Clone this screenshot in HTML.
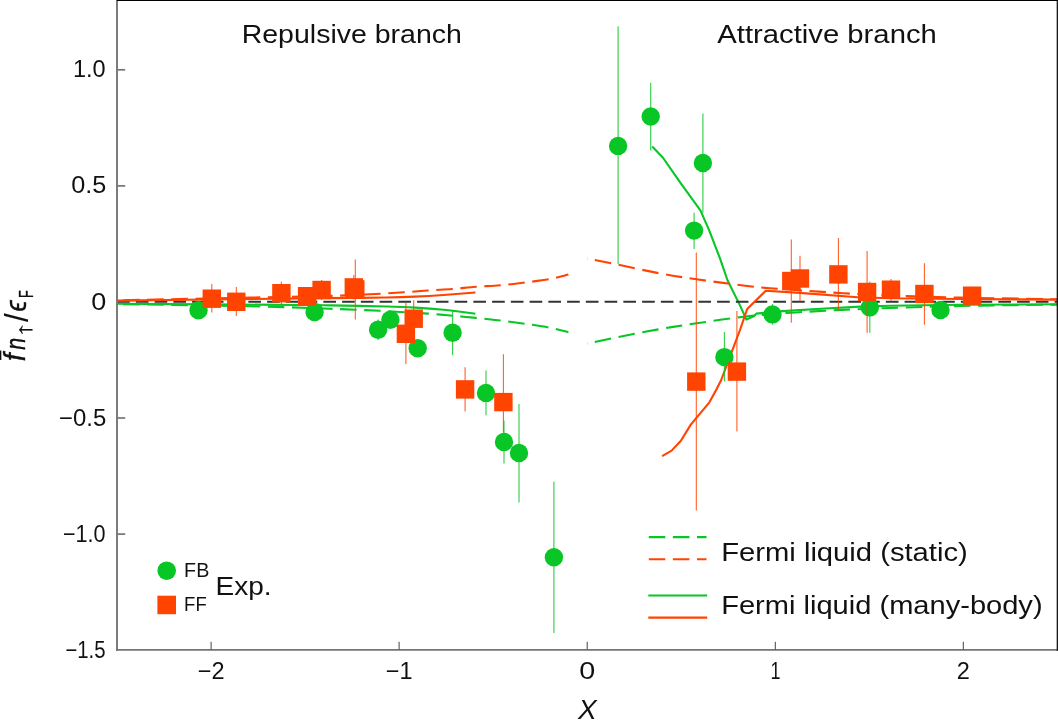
<!DOCTYPE html>
<html lang="en"><head><meta charset="utf-8"><title>Fermi liquid interaction plot</title>
<style>html,body{margin:0;padding:0;background:#fff;overflow:hidden}svg{display:block}text{font-family:"Liberation Sans", sans-serif;fill:#111}</style>
</head><body>
<svg width="1058" height="726" viewBox="0 0 1058 726">
<rect x="0" y="0" width="1058" height="726" fill="#fff"/>
<g fill="none" stroke-width="2.1" stroke-linejoin="round">
<path d="M117.0,303.7 C147.5,303.9 264.5,304.7 300.0,305.0 C335.5,305.3 315.6,305.1 330.0,305.4 C344.4,305.6 372.5,306.1 386.7,306.5 C400.9,306.9 405.6,307.1 415.1,307.6 C424.6,308.1 433.4,308.7 443.5,309.7 C453.6,310.7 470.1,313.0 475.4,313.7" stroke="#08C626"/>
<path d="M652.2,146.5 L662.8,157.5 L680.3,182.7 L700.4,210.3 L709.2,230.3 L719.8,257.9 L727.6,280.5 L740.0,305.4 L746.4,319.6 L754.2,316.0 L756.3,313.6 L782.6,311.1 L825.1,308.5 L860.6,306.6 L890.0,305.7 L960.0,304.8 L1057.0,304.2" stroke="#08C626"/>
<path d="M117.0,304.0 C139.2,304.4 214.5,305.4 250.0,306.2 C285.5,307.0 308.4,308.0 330.0,308.8 C351.6,309.6 363.3,310.0 379.6,310.8 C395.9,311.6 416.6,312.9 428.0,313.6 C439.4,314.4 439.7,314.6 447.7,315.3 C455.7,316.0 467.3,317.0 476.0,317.9 C484.7,318.8 491.9,319.5 500.0,320.5 C508.1,321.5 516.5,322.5 524.6,323.7 C532.7,324.9 541.5,326.1 548.8,327.5 C556.1,328.9 565.1,331.4 568.4,332.2" stroke="#08C626" stroke-dasharray="16.5 7.6" stroke-dashoffset="17.9"/>
<path d="M587.3,343.6 C592.4,342.5 606.2,339.4 618.1,337.0 C630.0,334.6 645.3,331.7 658.4,329.4 C671.5,327.1 682.1,325.4 696.6,323.3 C711.1,321.2 730.5,318.2 745.5,316.5 C760.5,314.8 773.5,313.9 786.8,313.0 C800.1,312.1 814.5,311.4 825.1,310.8 C835.7,310.2 839.8,310.0 850.6,309.5 C861.4,309.0 871.8,308.6 890.0,308.0 C908.2,307.4 932.2,306.6 960.0,306.0 C987.8,305.4 1040.8,304.8 1057.0,304.6" stroke="#08C626" stroke-dasharray="16.5 7.6" stroke-dashoffset="16.2"/>
<path d="M117.1,301.8 H1057" stroke="#333" stroke-width="2" stroke-dasharray="12.65 6.1"/>
<path d="M117.0,300.6 C147.5,300.2 264.5,298.8 300.0,298.4 C335.5,298.0 315.6,298.2 330.0,298.1 C344.4,298.0 372.5,297.8 386.7,297.5 C400.9,297.2 405.6,297.0 415.1,296.6 C424.6,296.2 433.4,295.7 443.5,295.0 C453.6,294.3 470.1,292.9 475.4,292.5" stroke="#FF4300"/>
<path d="M662.1,456.2 L671.6,450.6 L680.9,440.7 L690.8,424.6 L696.4,417.8 L709.4,402.3 L716.8,388.7 L721.2,380.0 L730.4,355.3 L740.0,330.0 L747.2,308.9 L765.8,290.8 L799.6,292.9 L857.7,297.2 L890.0,298.3 L960.0,299.0 L1057.0,299.6" stroke="#FF4300"/>
<path d="M117.0,300.4 C139.2,299.9 214.5,298.4 250.0,297.6 C285.5,296.9 310.9,296.4 330.0,295.9 C349.1,295.4 352.5,295.1 364.8,294.5 C377.1,293.9 393.3,293.0 403.8,292.3 C414.3,291.6 419.9,291.1 427.9,290.5 C435.9,289.9 444.0,289.6 452.0,289.0 C460.0,288.4 468.0,287.4 476.0,286.8 C484.0,286.2 491.9,286.0 500.0,285.3 C508.1,284.6 516.5,283.5 524.6,282.5 C532.7,281.5 541.5,280.6 548.8,279.3 C556.1,278.0 565.1,275.4 568.4,274.6" stroke="#FF4300" stroke-dasharray="16.5 7.6" stroke-dashoffset="17.9"/>
<path d="M587.3,258.5 C592.4,259.5 606.2,262.3 618.1,264.7 C630.0,267.1 645.3,270.7 658.4,273.1 C671.5,275.5 681.8,277.2 696.6,279.3 C711.4,281.4 734.9,284.5 747.1,286.0 C759.3,287.5 758.1,287.3 770.0,288.2 C781.9,289.1 806.5,290.8 818.7,291.6 C830.9,292.4 831.4,292.5 843.3,293.2 C855.2,293.9 870.5,294.9 890.0,295.6 C909.5,296.3 932.2,297.0 960.0,297.6 C987.8,298.2 1040.8,299.0 1057.0,299.3" stroke="#FF4300" stroke-dasharray="16.5 7.6" stroke-dashoffset="16.2"/>
</g>
<g stroke="#08C626" stroke-width="1.1" stroke-opacity="0.85">
<path d="M378.1,319.5 V340.0"/>
<path d="M452.6,310.7 V355.3"/>
<path d="M486.0,370.5 V415.2"/>
<path d="M504.0,420.7 V463.6"/>
<path d="M519.0,403.9 V502.4"/>
<path d="M553.9,481.8 V632.9"/>
<path d="M618.1,26.3 V264.2"/>
<path d="M650.7,82.7 V150.4"/>
<path d="M702.9,113.6 V212.8"/>
<path d="M694.1,212.8 V249.1"/>
<path d="M724.4,332.0 V381.6"/>
<path d="M772.5,304.0 V324.7"/>
<path d="M869.8,281.5 V332.8"/>
</g>
<g fill="#08C626">
<circle cx="198.5" cy="310.2" r="9.2"/>
<circle cx="314.6" cy="312.0" r="9.2"/>
<circle cx="378.1" cy="329.7" r="9.2"/>
<circle cx="390.4" cy="319.7" r="9.2"/>
<circle cx="417.7" cy="348.2" r="9.2"/>
<circle cx="452.6" cy="332.8" r="9.2"/>
<circle cx="486.0" cy="392.9" r="9.2"/>
<circle cx="504.0" cy="442.0" r="9.2"/>
<circle cx="519.0" cy="453.0" r="9.2"/>
<circle cx="553.9" cy="557.2" r="9.2"/>
<circle cx="618.1" cy="145.9" r="9.2"/>
<circle cx="650.7" cy="116.5" r="9.2"/>
<circle cx="702.9" cy="163.0" r="9.2"/>
<circle cx="694.1" cy="230.6" r="9.2"/>
<circle cx="724.4" cy="357.1" r="9.2"/>
<circle cx="772.5" cy="314.4" r="9.2"/>
<circle cx="869.8" cy="307.4" r="9.2"/>
<circle cx="940.5" cy="310.0" r="9.2"/>
</g>
<g stroke="#FF4300" stroke-width="1.1" stroke-opacity="0.85">
<path d="M211.8,284.0 V312.6"/>
<path d="M236.3,287.0 V316.0"/>
<path d="M281.4,281.8 V304.8"/>
<path d="M321.6,279.9 V300.0"/>
<path d="M353.8,275.1 V299.5"/>
<path d="M355.3,259.4 V319.4"/>
<path d="M413.7,300.2 V337.0"/>
<path d="M405.9,302.7 V364.1"/>
<path d="M465.1,367.2 V411.4"/>
<path d="M503.4,354.2 V432.7"/>
<path d="M696.3,252.6 V510.6"/>
<path d="M736.9,311.0 V431.5"/>
<path d="M791.3,239.5 V322.7"/>
<path d="M800.0,255.8 V301.4"/>
<path d="M838.4,238.1 V310.3"/>
<path d="M867.1,250.9 V332.8"/>
<path d="M891.0,279.0 V300.5"/>
<path d="M924.4,263.3 V324.8"/>
</g>
<g fill="#FF4300">
<rect x="202.6" y="289.5" width="18.4" height="18.4"/>
<rect x="227.1" y="292.6" width="18.4" height="18.4"/>
<rect x="272.2" y="284.0" width="18.4" height="18.4"/>
<rect x="297.9" y="287.0" width="18.4" height="18.4"/>
<rect x="312.4" y="280.8" width="18.4" height="18.4"/>
<rect x="344.6" y="278.2" width="18.4" height="18.4"/>
<rect x="346.1" y="280.2" width="18.4" height="18.4"/>
<rect x="404.5" y="309.5" width="18.4" height="18.4"/>
<rect x="396.7" y="324.6" width="18.4" height="18.4"/>
<rect x="455.9" y="380.2" width="18.4" height="18.4"/>
<rect x="494.2" y="392.9" width="18.4" height="18.4"/>
<rect x="687.1" y="372.4" width="18.4" height="18.4"/>
<rect x="727.7" y="362.4" width="18.4" height="18.4"/>
<rect x="782.1" y="271.8" width="18.4" height="18.4"/>
<rect x="790.8" y="269.3" width="18.4" height="18.4"/>
<rect x="829.2" y="265.2" width="18.4" height="18.4"/>
<rect x="857.9" y="282.8" width="18.4" height="18.4"/>
<rect x="881.8" y="280.5" width="18.4" height="18.4"/>
<rect x="915.2" y="284.8" width="18.4" height="18.4"/>
<rect x="962.9" y="286.5" width="18.4" height="18.4"/>
</g>
<g stroke="#757575" fill="none">
<path d="M117,0 V650.8" stroke-width="1.9"/>
<path d="M116,649.9 H1057.5" stroke-width="1.8"/>
<path d="M117,69.8 H125.2" stroke-width="1.7"/>
<path d="M117,185.9 H125.2" stroke-width="1.7"/>
<path d="M117,418.0 H125.2" stroke-width="1.7"/>
<path d="M117,534.1 H125.2" stroke-width="1.7"/>
<path d="M211.1,641.8 V649.5" stroke-width="1" stroke="#444"/>
<path d="M399.1,641.8 V649.5" stroke-width="1" stroke="#444"/>
<path d="M587.2,641.8 V649.5" stroke-width="1" stroke="#444"/>
<path d="M775.3,641.8 V649.5" stroke-width="1" stroke="#444"/>
<path d="M963.3,641.8 V649.5" stroke-width="1" stroke="#444"/>
</g>
<path d="M116.8,0.5 H1058" stroke="#000" stroke-width="1.2"/>
<path d="M1057.3,0 V650.8" stroke="#000" stroke-width="1.2"/>
<text x="105.6" y="77.3" font-size="23.5" text-anchor="end">1.0</text>
<text x="106.3" y="193.4" font-size="23.5" text-anchor="end" textLength="35.1" lengthAdjust="spacingAndGlyphs">0.5</text>
<text x="106.3" y="309.5" font-size="23.5" text-anchor="end" textLength="15.0" lengthAdjust="spacingAndGlyphs">0</text>
<text x="106.3" y="425.5" font-size="23.5" text-anchor="end" textLength="47.2" lengthAdjust="spacingAndGlyphs">−0.5</text>
<text x="105.6" y="541.6" font-size="23.5" text-anchor="end" textLength="42.7" lengthAdjust="spacingAndGlyphs">−1.0</text>
<text x="105.6" y="657.7" font-size="23.5" text-anchor="end" textLength="40.2" lengthAdjust="spacingAndGlyphs">−1.5</text>
<text x="211.1" y="678.7" font-size="23.5" text-anchor="middle">−2</text>
<text x="399.1" y="678.7" font-size="23.5" text-anchor="middle">−1</text>
<text x="587.3" y="678.7" font-size="23.5" text-anchor="middle" textLength="16.0" lengthAdjust="spacingAndGlyphs">0</text>
<text x="775.6" y="678.7" font-size="23.5" text-anchor="middle" textLength="10.0" lengthAdjust="spacingAndGlyphs">1</text>
<text x="963.3" y="678.7" font-size="23.5" text-anchor="middle">2</text>
<text x="241.7" y="42.6" font-size="26.6" textLength="220.2" lengthAdjust="spacingAndGlyphs">Repulsive branch</text>
<text x="717.3" y="42.6" font-size="26.6" textLength="219.5" lengthAdjust="spacingAndGlyphs">Attractive branch</text>
<text x="587.4" y="719.3" font-size="28" font-style="italic" text-anchor="middle">X</text>
<g transform="translate(25,360.2) rotate(-90)">
<text transform="translate(-0.97,0.00) scale(1.424,1.462)" font-size="20" stroke="#111" stroke-width="0.25" font-style="italic">f</text>
<text transform="translate(0.33,4.04) scale(0.808,1.957)" font-size="20" stroke="#111" stroke-width="0.35">¯</text>
<text transform="translate(10.34,0.00) scale(1.073,1.394)" font-size="20" stroke="#111" stroke-width="0.25" font-style="italic">n</text>
<text transform="translate(21.33,7.12) scale(1.795,1.132)" font-size="20" stroke="#111" stroke-width="0.05">↑</text>
<text transform="translate(38.20,3.46) scale(1.583,1.701)" font-size="20" stroke="#111" stroke-width="0.05">/</text>
<text transform="translate(48.69,0.50) scale(1.265,1.468)" font-size="20" stroke="#111" stroke-width="0.25" font-style="italic">ϵ</text>
<text transform="translate(62.16,7.80) scale(0.634,0.974)" font-size="20" stroke="#111" stroke-width="0.35">F</text>
</g>
<circle cx="166.7" cy="570.7" r="9.3" fill="#08C626"/>
<rect x="157.4" y="595.7" width="18.6" height="18.5" fill="#FF4300"/>
<text x="184.1" y="577.1" font-size="20.2" textLength="25.2" lengthAdjust="spacingAndGlyphs">FB</text>
<text x="184.1" y="610.7" font-size="20.2" textLength="22.6" lengthAdjust="spacingAndGlyphs">FF</text>
<text x="215.6" y="595.2" font-size="25.5" textLength="56" lengthAdjust="spacingAndGlyphs">Exp.</text>
<g fill="none" stroke-width="2.1">
<path d="M648.8,537.1 H706.5" stroke="#08C626" stroke-dasharray="16.5 7.6"/>
<path d="M648.8,559.3 H706.5" stroke="#FF4300" stroke-dasharray="16.5 7.6"/>
<path d="M648.3,595.5 H707.2" stroke="#08C626"/>
<path d="M648.3,617.6 H707.2" stroke="#FF4300"/>
</g>
<text x="721.2" y="560.6" font-size="25.8" textLength="246.6" lengthAdjust="spacingAndGlyphs">Fermi liquid (static)</text>
<text x="721.2" y="613.5" font-size="25.8" textLength="321.4" lengthAdjust="spacingAndGlyphs">Fermi liquid (many-body)</text>
</svg>
</body></html>
